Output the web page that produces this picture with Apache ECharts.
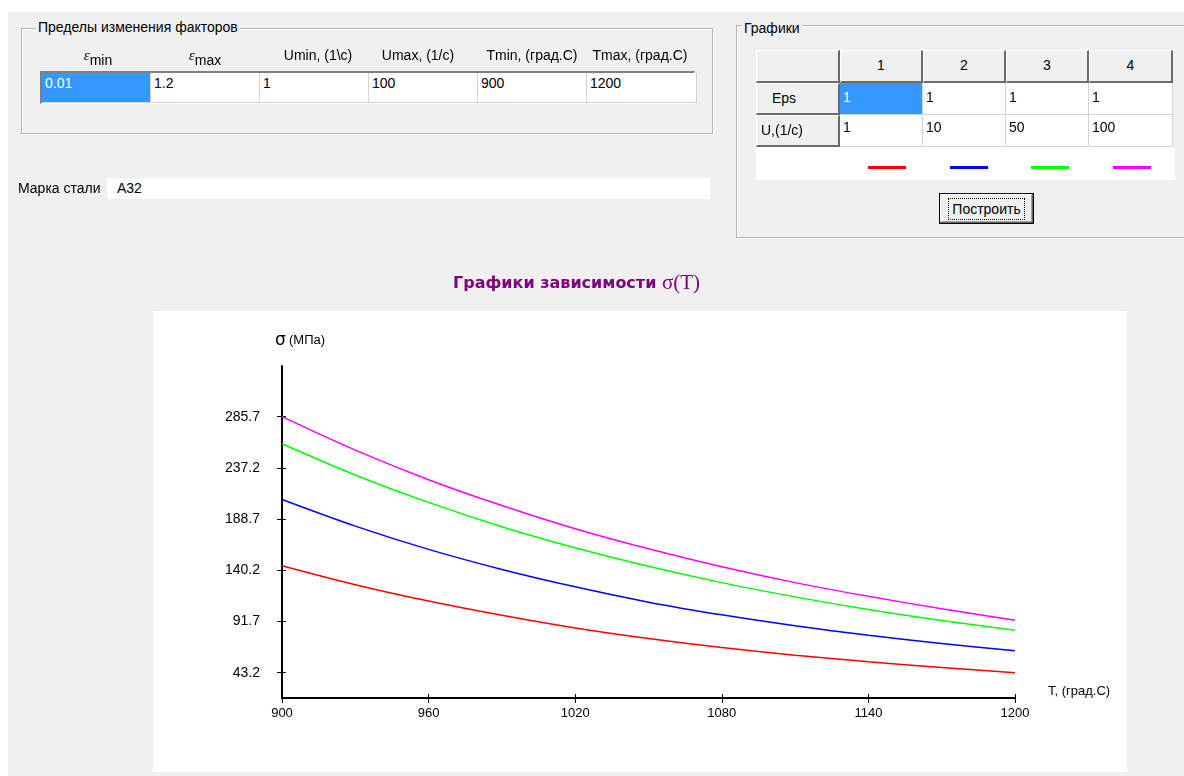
<!DOCTYPE html>
<html>
<head>
<meta charset="utf-8">
<script src="https://cdn.jsdelivr.net/npm/echarts@6/dist/echarts.min.js"></script>
<style>
body{margin:0;width:1184px;height:776px;overflow:hidden;background:#fff;position:relative;
  font-family:"Liberation Sans",Arial,sans-serif;font-size:14px;color:#000}
.abs{position:absolute;box-sizing:border-box}
#back{left:8px;top:12px;width:1176px;height:764px;background:#f0f0f0;z-index:0}
#panel{left:153px;top:311px;width:974px;height:461px;background:#fff;z-index:1}
#chart{left:0;top:0;width:1184px;height:776px;z-index:2}
.group{border:1px solid #b4b4b4;box-shadow:inset 1px 1px 0 #fff,1px 1px 0 #fff;z-index:3}
.gtitle{background:#f0f0f0;padding:0 2px;line-height:16px;z-index:4}
.lbl{line-height:16px;text-align:center;z-index:4;white-space:nowrap}
.cell{background:#fff;border-right:1px solid #d4d4d4;border-bottom:1px solid #d4d4d4;padding:2px 3px;line-height:16px;z-index:4;white-space:nowrap}
.sel{background:#3399ff;color:#fff}
.hdr{background:#f0f0f0;border-top:1px solid #fff;border-left:1px solid #fff;border-right:2px solid #6b6b6b;border-bottom:2px solid #6b6b6b;line-height:28px;z-index:4}
.btn{background:#f0f0f0;border:1px solid #000;box-shadow:inset -1px -1px 0 #696969,inset 1px 1px 0 #fff,inset -2px -2px 0 #a0a0a0;z-index:4;text-align:center;line-height:29px}
.focus{border:1px dotted #000;line-height:20px;padding:0 3px;display:inline-block;margin-top:4px}
sub{font-size:14px;vertical-align:-5px}
</style>
</head>
<body>
<div id="back" class="abs"></div>
<div id="panel" class="abs"></div>
<div id="chart" class="abs"></div>

<!-- Пределы изменения факторов -->
<div class="abs group" style="left:21px;top:28px;width:692px;height:106px"></div>
<div class="abs gtitle" style="left:36px;top:19px">Пределы изменения факторов</div>
<div id="limits"></div>

<div class="abs lbl" style="left:18px;top:180px;text-align:left">Марка стали</div>
<div class="abs" style="left:107px;top:178px;width:603px;height:21px;background:#fff;padding:1px 10px;line-height:18px;z-index:4">А32</div>

<!-- Графики -->
<div class="abs group" style="left:736px;top:25px;width:460px;height:213px"></div>
<div class="abs gtitle" style="left:742px;top:20px">Графики</div>
<div id="grid"></div>
<div class="abs btn" style="left:939px;top:193px;width:95px;height:31px"><span class="focus">Построить</span></div>

<script>
// значения со скриншота
var limitNames = ['ε|min', 'ε|max', 'Umin, (1\\c)', 'Umax, (1/c)', 'Tmin, (град.С)', 'Tmax, (град.С)'];
var limitValues = ['0.01', '1.2', '1', '100', '900', '1200'];
var epsValues = [1, 1, 1, 1];
var rateValues = [1, 10, 50, 100];
var lineColors = ['#ff0000', '#0000ff', '#00ff00', '#ff00ff'];

var temps = [900, 930, 960, 990, 1020, 1050, 1080, 1110, 1140, 1170, 1200];
var sigma1 = [144.5, 126.5, 111.0, 97.5, 85.5, 75.5, 67.0, 59.8, 53.5, 48.0, 43.2];
var sigma2 = [207.2, 182.0, 160.0, 141.0, 124.5, 110.0, 98.0, 87.6, 78.6, 70.8, 64.0];
var sigma3 = [260.1, 230.5, 204.5, 181.5, 161.5, 144.0, 128.5, 115.0, 103.0, 92.6, 83.4];
var sigma4 = [285.7, 254.0, 226.0, 201.5, 179.5, 160.5, 143.5, 128.5, 115.5, 103.8, 92.8];
var yTicks = [43.2, 91.7, 140.2, 188.7, 237.2, 285.7];
var yMin = 19.2, yMax = 333.7;

// таблица пределов
var html = '';
var centers = [98, 205, 318, 418, 532, 640];
limitNames.forEach(function(n, i){
  var t = n;
  if(n.indexOf('|') > 0){
    var p = n.split('|');
    t = '<i style="font-family:\'Liberation Serif\';font-size:15px">' + p[0] + '</i><sub>' + p[1] + '</sub>';
  }
  html += '<div class="abs lbl" style="left:' + (centers[i]-60) + 'px;top:47px;width:120px">' + t + '</div>';
});
html += '<div class="abs" style="left:40px;top:71px;width:655px;height:33px;border-top:2px solid #808080;border-left:2px solid #808080;border-right:1px solid #fff;border-bottom:1px solid #fff;z-index:3"></div>';
limitValues.forEach(function(v, i){
  html += '<div class="abs cell' + (i==0?' sel':'') + '" style="left:' + (42+i*109) + 'px;top:73px;width:' + (i==5?110:109) + 'px;height:30px">' + v + '</div>';
});
document.getElementById('limits').innerHTML = html;

// таблица графиков
var cols = [756, 840, 923, 1006, 1089, 1173];
html = '';
for(var c = 0; c < 5; c++){
  html += '<div class="abs hdr" style="left:' + cols[c] + 'px;top:50px;width:' + (cols[c+1]-cols[c]) + 'px;height:33px;text-align:center">' + (c?c:'') + '</div>';
}
html += '<div class="abs hdr" style="left:756px;top:83px;width:84px;height:32px;padding-left:15px;line-height:28px">Eps</div>';
html += '<div class="abs hdr" style="left:756px;top:115px;width:84px;height:32px;padding-left:4px;line-height:28px">U,(1/c)</div>';
for(c = 0; c < 4; c++){
  var w = cols[c+2]-cols[c+1];
  html += '<div class="abs cell' + (c==0?' sel':'') + '" style="left:' + cols[c+1] + 'px;top:83px;width:' + w + 'px;height:32px;padding-top:6px">' + epsValues[c] + '</div>';
  html += '<div class="abs cell" style="left:' + cols[c+1] + 'px;top:115px;width:' + w + 'px;height:32px;padding-top:4px">' + rateValues[c] + '</div>';
}
html += '<div class="abs" style="left:756px;top:147px;width:419px;height:33px;background:#fff;z-index:3"></div>';
lineColors.forEach(function(col, i){
  html += '<div class="abs" style="left:' + (868+i*81.5) + 'px;top:166px;width:38px;height:3px;background:' + col + ';z-index:4"></div>';
});
document.getElementById('grid').innerHTML = html;

// график
var chart = echarts.init(document.getElementById('chart'));
var sigmas = [sigma1, sigma2, sigma3, sigma4];
var font = 'Liberation Sans';
chart.setOption({
  animation: false,
  title: {
    text: '{a|Графики зависимости }{b|σ(T)}',
    left: 448,
    top: 268,
    textStyle: {
      rich: {
        a: {fontFamily: 'DejaVu Sans', fontWeight: 'bold', fontSize: 16, color: '#800080'},
        b: {fontFamily: 'Liberation Serif', fontWeight: 'normal', fontSize: 21, color: '#800080'}
      }
    }
  },
  grid: {left: 282, top: 366, width: 733, height: 332},
  xAxis: [
    {
      type: 'value', min: 900, max: 1200, interval: 60, position: 'bottom',
      axisLine: {onZero: false, lineStyle: {color: '#000', width: 2}},
      axisTick: {show: true, length: 5, lineStyle: {color: '#000'}},
      axisLabel: {color: '#000', fontSize: 13, fontFamily: font, margin: 9,
        formatter: function(v){ return String(v); }},
      splitLine: {show: false},
      name: 'T, (град.С)', nameLocation: 'end', nameGap: 33,
      nameTextStyle: {color: '#000', fontSize: 13, fontFamily: font, verticalAlign: 'bottom'}
    },
    {
      type: 'value', min: 900, max: 1200, interval: 60, position: 'bottom', offset: 0,
      axisLine: {show: false},
      axisTick: {show: true, inside: true, length: 4, lineStyle: {color: '#000'}},
      axisLabel: {show: false},
      splitLine: {show: false}
    }
  ],
  yAxis: [
    {
      type: 'value', min: yMin, max: yMax, position: 'left',
      axisLine: {show: true, onZero: false, lineStyle: {color: '#000', width: 2}},
      axisTick: {show: true, length: 5, customValues: yTicks, lineStyle: {color: '#000'}},
      axisLabel: {color: '#000', fontSize: 14, fontFamily: font, margin: 22, customValues: yTicks},
      splitLine: {show: false},
      name: '{s|σ} {u|(МПа)}', nameLocation: 'end', nameGap: 17,
      nameTextStyle: {
        align: 'center', padding: [0, 0, 0, 36],
        rich: {
          s: {fontSize: 17, fontFamily: 'DejaVu Sans', color: '#000'},
          u: {fontSize: 13, fontFamily: font, color: '#000'}
        }
      }
    },
    {
      type: 'value', min: yMin, max: yMax, position: 'left', offset: 0,
      axisLine: {show: false},
      axisTick: {show: true, inside: true, length: 4, customValues: yTicks, lineStyle: {color: '#000'}},
      axisLabel: {show: false},
      splitLine: {show: false}
    }
  ],
  series: sigmas.map(function(arr, k){
    return {
      name: 'U = ' + rateValues[k],
      type: 'line',
      symbol: 'none',
      smooth: 0.3,
      color: lineColors[k],
      lineStyle: {width: 1.5, color: lineColors[k]},
      data: temps.map(function(t, i){ return [t, arr[i]]; })
    };
  })
});
</script>
</body>
</html>
